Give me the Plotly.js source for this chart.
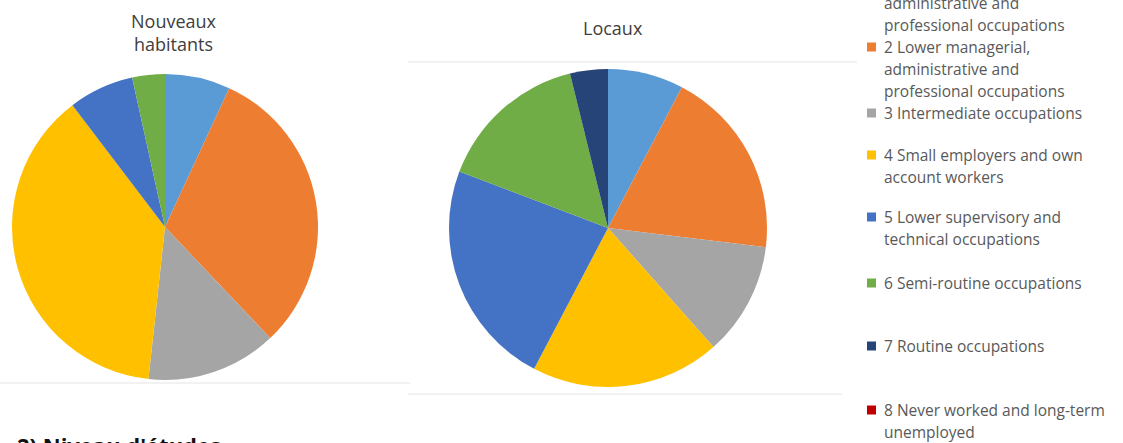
<!DOCTYPE html>
<html>
<head>
<meta charset="utf-8">
<script src="https://cdn.plot.ly/plotly-3.0.1.min.js"></script>
<style>html,body{margin:0;padding:0;background:#fff}#chart{width:1123px;height:443px}</style>
</head>
<body>
<div id="chart"></div>
<script>
// ---- data ----
var categories = [
  "1 Higher managerial,<br>administrative and<br>professional occupations",
  "2 Lower managerial,<br>administrative and<br>professional occupations",
  "3 Intermediate occupations",
  "4 Small employers and own<br>account workers",
  "5 Lower supervisory and<br>technical occupations",
  "6 Semi-routine occupations",
  "7 Routine occupations",
  "8 Never worked and long-term<br>unemployed"
];
var nouveauxHabitants = [2, 9, 4, 11, 2, 1, 0, 0];
var locaux = [2, 5, 3, 5, 6, 4, 1, 0];
var colors = ["#5B9BD5", "#ED7D31", "#A5A5A5", "#FFC000", "#4472C4", "#70AD47", "#264478", "#C00000"];
var titleNouveaux = "Nouveaux<br>habitants";
var titleLocaux = "Locaux";
var sectionText = "2) Niveau d'études";

// ---- layout helpers ----
var W = 1123, H = 443;
function px(x) { return x / W; }
function py(y) { return 1 - y / H; }

var traces = [
  {
    type: "pie", values: nouveauxHabitants, labels: categories,
    marker: {colors: colors, line: {width: 0}},
    sort: false, direction: "clockwise", rotation: 0,
    textinfo: "none", hoverinfo: "label+value", showlegend: false,
    domain: {x: [px(12), px(318)], y: [py(380), py(74)]}
  },
  {
    type: "pie", values: locaux, labels: categories,
    marker: {colors: colors, line: {width: 0}},
    sort: false, direction: "clockwise", rotation: 0,
    textinfo: "none", hoverinfo: "label+value", showlegend: false,
    domain: {x: [px(449), px(767)], y: [py(387), py(69)]}
  }
];

var annotations = [];
var shapes = [];

// chart titles
annotations.push({x: px(174), y: py(32), xref: "paper", yref: "paper", text: titleNouveaux,
  showarrow: false, xanchor: "center", yanchor: "middle",
  font: {family: "Open Sans", size: 18, color: "#404040"}});
annotations.push({x: px(613), y: py(28), xref: "paper", yref: "paper", text: titleLocaux,
  showarrow: false, xanchor: "center", yanchor: "middle",
  font: {family: "Open Sans", size: 18, color: "#404040"}});

// section heading (cut at bottom)
annotations.push({x: px(15), y: py(428), xref: "paper", yref: "paper", text: "<b>" + sectionText + "</b>",
  showarrow: false, xanchor: "left", yanchor: "top",
  font: {family: "Open Sans", size: 22, color: "#111"}});

// legend drawn as annotations + square markers
var legendStartY = [-19, 47, 113, 155, 217, 283, 346, 410];
var lineGap = 22;
categories.forEach(function (lab, i) {
  var lines = lab.split("<br>");
  lines.forEach(function (ln, j) {
    annotations.push({x: px(882), y: py(legendStartY[i] + j * lineGap), xref: "paper", yref: "paper",
      text: ln, showarrow: false, xanchor: "left", yanchor: "middle",
      font: {family: "Open Sans", size: 15.5, color: "#595959"}});
  });
  var cy = legendStartY[i];
  shapes.push({type: "rect", xref: "paper", yref: "paper",
    x0: px(867), x1: px(876), y0: py(cy + 4.5), y1: py(cy - 4.5),
    fillcolor: colors[i], line: {width: 0}});
});

// faint chart-frame borders
var lineStyle = {color: "#e4e4e4", width: 1};
shapes.push({type: "line", xref: "paper", yref: "paper", x0: px(0), x1: px(410), y0: py(383), y1: py(383), line: lineStyle});
shapes.push({type: "line", xref: "paper", yref: "paper", x0: px(408), x1: px(857), y0: py(62), y1: py(62), line: lineStyle});
shapes.push({type: "line", xref: "paper", yref: "paper", x0: px(408), x1: px(842), y0: py(394), y1: py(394), line: lineStyle});

var layout = {
  width: W, height: H,
  margin: {l: 0, r: 0, t: 0, b: 0, autoexpand: false},
  paper_bgcolor: "#fff", plot_bgcolor: "#fff",
  showlegend: false,
  annotations: annotations,
  shapes: shapes
};

Plotly.newPlot("chart", traces, layout, {displayModeBar: false, staticPlot: true});
</script>
</body>
</html>
